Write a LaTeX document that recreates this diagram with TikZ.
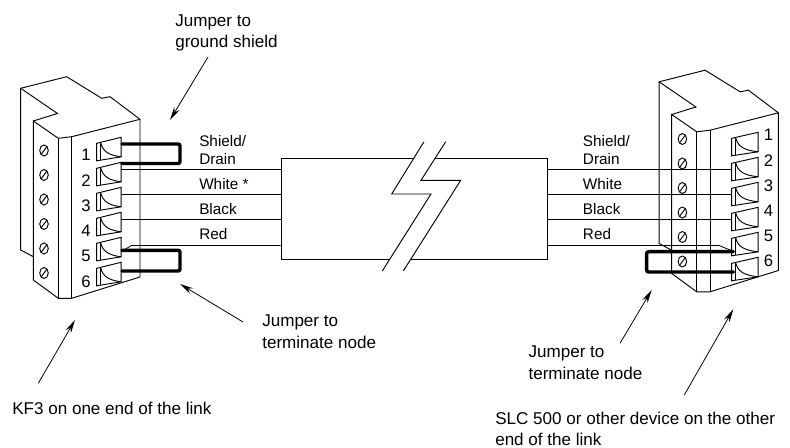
\documentclass[tikz,border=0pt]{standalone}
\usepackage{fontspec}
\setmainfont{Liberation Sans}
\usetikzlibrary{arrows.meta}

\tikzset{
    outline/.style={line width=0.7pt, line join=miter},
    wire/.style={line width=0.6pt},
    jumper/.style={line width=2.6pt, line cap=round, rounded corners=1.5pt},
    pointer/.style={line width=0.6pt, -{Stealth[length=10pt,width=4.6pt]}},
    lbl/.style={font=\fontsize{12.8}{16.2}\selectfont, align=left, inner sep=0pt, anchor=base west},
    wirelbl/.style={font=\fontsize{11.5}{13.5}\selectfont, align=left, inner sep=0pt, anchor=base west},
    pinno/.style={font=\fontsize{12.5}{14}\selectfont, inner sep=0pt}
}

\begin{document}
\begin{tikzpicture}[x=0.75pt, y=-0.75pt]

        \useasboundingbox (0,0) rectangle (790,448);

        \foreach \dx/\dy/\sy in {0/0/150.5, 638.4/-6.5/145.5}{
            \begin{scope}[shift={(\dx,\dy)}]
                \draw[outline] (33.3,256.7) -- (20.7,250) -- (20.7,88.3) -- (66.7,76.7) -- (101.7,98.3) -- (110,96.7) -- (140,119.3);
                \draw[outline] (20.7,88.3) -- (57.5,113.5) -- (33.3,121);
                \draw[outline] (33.3,121) -- (58.3,138.3) -- (71.7,136.7) -- (140,119.3) -- (140,277) -- (71.7,298.3) -- (58.3,298.3) -- (33.3,280) -- cycle;
                \draw[outline] (58.3,138.3) -- (58.3,298.3);
                \draw[outline] (71.7,136.7) -- (71.7,298.3);
                \foreach \i in {0,...,5}{
                    \pgfmathsetmacro\sc{\sy+24.5*\i}
                    \draw[outline] (44,\sc) ellipse [x radius=4.3, y radius=5.5];
                    \draw[outline] (47,\sc-4) -- (41,\sc+4);
                }
            \end{scope}
        }

        \foreach \bx/\by/\bw in {96.7/143.3/24.5, 731.7/138.3/26.5}{
            \foreach \i in {0,...,5}{
                \pgfmathsetmacro\ty{\by+25*\i}
                \draw[outline] (\bx,\ty) -- (\bx+\bw,\ty-6) -- (\bx+\bw,\ty+13.5) -- (\bx,\ty+17.5) -- cycle;
                \draw[outline] (\bx+4,\ty-1) -- (\bx+4,\ty+16.8);
                \draw[outline] (\bx+4,\ty-0.5) .. controls (\bx+6,\ty+8) and (\bx+12,\ty+12) .. (\bx+\bw,\ty+13.5);
            }
        }

        \foreach \i in {1,...,6}{
            \node[pinno] (nL\i) at (86,155+25.3*\i-25.3) {\i};
            \node[pinno] (nR\i) at (768.5,135+25.2*\i-25.2) {\i};
        }

        \node[draw, line width=0.7pt, inner sep=0pt, minimum width=199.5pt, minimum height=75.75pt] (cable) at (414,208.5) {};
        \fill[white] (424,141.7) -- (391.7,194) -- (431,194) -- (382.3,271) -- (403.3,271) -- (460.7,180.3) -- (421,180.3) -- (445.7,141.7) -- cycle;
        \draw[outline] (424,141.7) -- (391.7,194) -- (431,194) -- (382.3,271);
        \draw[outline] (445.7,141.7) -- (421,180.3) -- (460.7,180.3) -- (403.3,271);

        \coordinate (L2) at (121,169);
        \coordinate (L3) at (121,194.7);
        \coordinate (L4) at (121,219.8);
        \coordinate (L5) at (123,250.5);
        \coordinate (L5k) at (131.5,245.5);
        \coordinate (R2) at (731.7,169);
        \coordinate (R3) at (731.7,194.7);
        \coordinate (R4) at (731.7,219.8);
        \coordinate (R5) at (731.7,250.7);
        \coordinate (R5k) at (719,245.5);

        \draw[wire] (L2) -- (L2 -| cable.west);
        \draw[wire] (L3) -- (L3 -| cable.west);
        \draw[wire] (L4) -- (L4 -| cable.west);
        \draw[wire] (L5) -- (L5k) -- (L5k -| cable.west);
        \draw[wire] (R2) -- (R2 -| cable.east);
        \draw[wire] (R3) -- (R3 -| cable.east);
        \draw[wire] (R4) -- (R4 -| cable.east);
        \draw[wire] (R5) -- (R5k) -- (R5k -| cable.east);

        \coordinate (J1) at (122,144);
        \coordinate (J2) at (122,163.5);
        \coordinate (J5) at (122,250.3);
        \coordinate (J6) at (122,271);
        \coordinate (K5) at (733.3,251.7);
        \coordinate (K6) at (733.3,272);
        \draw[jumper] (J1) -- ++(58,0) -- ++(0,19.5) -- (J2);
        \draw[jumper] (J5) -- ++(58,0) -- ++(0,20.7) -- (J6);
        \draw[jumper] (K5) -- ++(-86.6,0) -- ++(0,20.3) -- (K6);

        \node[wirelbl] (shieldL) at (199,165) {Shield/\\Drain};
        \node[wirelbl] (whiteL) at (199,189.8) {White *};
        \node[wirelbl] (blackL) at (199,215) {Black};
        \node[wirelbl] (redL) at (199,240) {Red};
        \node[wirelbl] (shieldR) at (582.7,165) {Shield/\\Drain};
        \node[wirelbl] (whiteR) at (582.7,189.8) {White};
        \node[wirelbl] (blackR) at (582.7,215) {Black};
        \node[wirelbl] (redR) at (582.7,240) {Red};

        \node[lbl] (gnd) at (175,48) {Jumper to\\ground shield};
        \node[lbl] (termL) at (262,348.3) {Jumper to\\terminate node};
        \node[lbl] (kf3) at (12,415) {KF3 on one end of the link};
        \node[lbl] (termR) at (528.3,379.5) {Jumper to\\terminate node};
        \node[lbl] (slc) at (495,446) {SLC 500 or other device on the other\\end of the link};

        \coordinate (gndtail) at (208,57);
        \coordinate (gndtip) at (170,120);
        \coordinate (termLtail) at (243,322);
        \coordinate (termLtip) at (180,284);
        \coordinate (kf3tail) at (38.3,383.3);
        \coordinate (kf3tip) at (75,320);
        \coordinate (termRtail) at (620,343.3);
        \coordinate (termRtip) at (651.7,290);
        \coordinate (slctail) at (684.3,395);
        \coordinate (slctip) at (733.3,309.3);
        \draw[pointer] (gndtail) -- (gndtip);
        \draw[pointer] (termLtail) -- (termLtip);
        \draw[pointer] (kf3tail) -- (kf3tip);
        \draw[pointer] (termRtail) -- (termRtip);
        \draw[pointer] (slctail) -- (slctip);
    \end{tikzpicture}
\end{document}
